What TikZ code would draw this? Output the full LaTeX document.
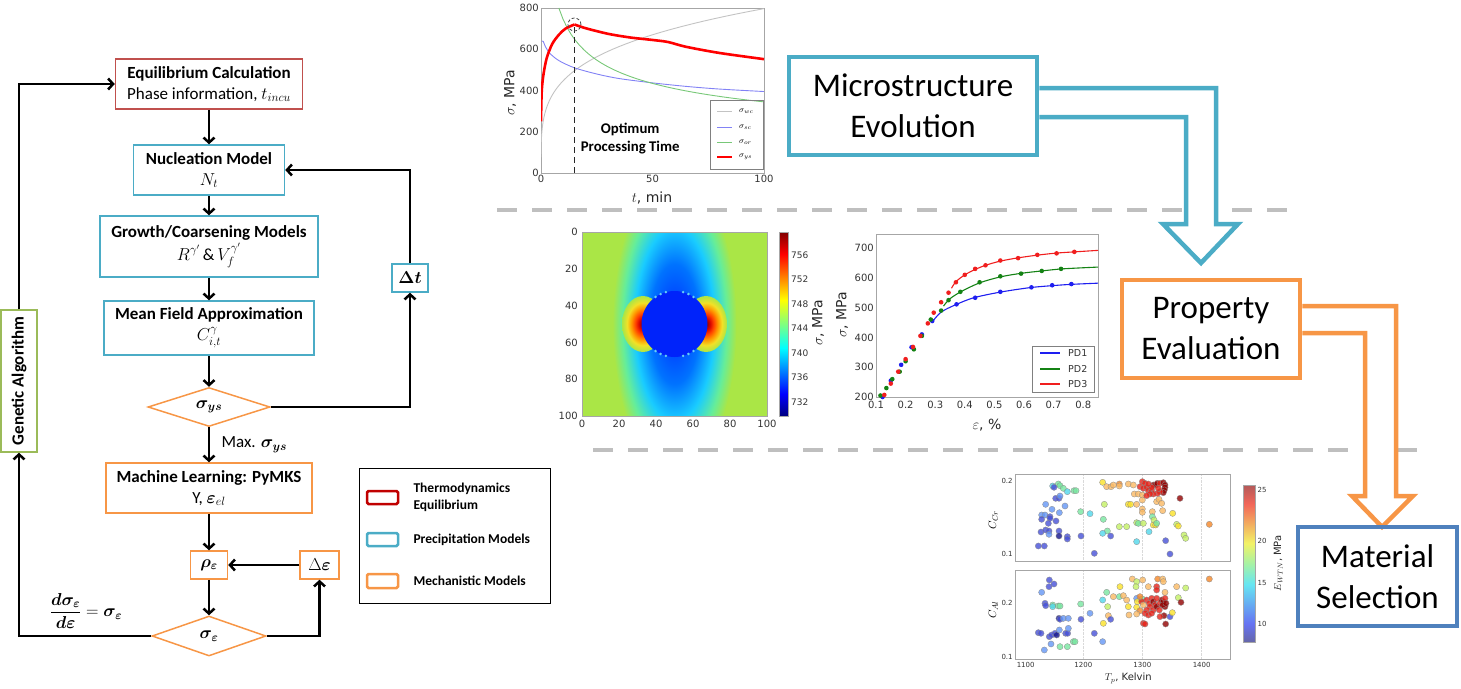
\documentclass[tikz,border=0pt]{standalone}
\usepackage{fontspec}
\setmainfont{Carlito}
\newfontfamily\plotfont{DejaVu Sans}
\usepackage{amsmath,bm}
\usetikzlibrary{arrows.meta,shapes.geometric,positioning,backgrounds}

\definecolor{eqred}{HTML}{C0504D}
\definecolor{eqdark}{HTML}{C00000}
\definecolor{precblue}{HTML}{4BACC6}
\definecolor{mechorange}{HTML}{F79646}
\definecolor{gagreen}{HTML}{9BBB59}
\definecolor{selblue}{HTML}{4F81BD}
\definecolor{dashgray}{HTML}{BFBFBF}
\definecolor{bgjet}{RGB}{170,230,70}
\definecolor{precip}{RGB}{0,35,250}
\definecolor{wcgray}{RGB}{195,195,195}
\definecolor{scblue}{RGB}{130,130,245}
\definecolor{orgreen}{RGB}{120,200,120}
\definecolor{pdblue}{RGB}{30,30,240}
\definecolor{pdgreen}{RGB}{20,130,20}
\definecolor{pdred}{RGB}{240,30,30}
% scatter colours, cool to hot
\definecolor{sa}{RGB}{20,20,140}
\definecolor{sb}{RGB}{70,80,215}
\definecolor{sc}{RGB}{100,150,245}
\definecolor{sd}{RGB}{80,215,235}
\definecolor{se}{RGB}{120,230,160}
\definecolor{sf}{RGB}{195,240,100}
\definecolor{sg}{RGB}{250,225,40}
\definecolor{sh}{RGB}{250,185,100}
\definecolor{si}{RGB}{245,135,40}
\definecolor{sj}{RGB}{230,35,25}
\definecolor{sk}{RGB}{145,0,0}

\newcommand{\fsz}[2]{\fontsize{#1}{#2}\selectfont}

\pgfdeclareverticalshading{jetbar}{100bp}{rgb(0bp)=(0,0,0.5); rgb(25bp)=(0,0,0.5); rgb(31bp)=(0,0,1); rgb(43.5bp)=(0,1,1); rgb(50bp)=(0.5,1,0.5); rgb(56.5bp)=(1,1,0); rgb(69bp)=(1,0,0); rgb(75bp)=(0.5,0,0); rgb(100bp)=(0.5,0,0)}
\pgfdeclareverticalshading{jetsoft}{100bp}{rgb(0bp)=(0.4,0.4,0.65); rgb(25bp)=(0.4,0.4,0.65); rgb(31bp)=(0.4,0.45,0.95); rgb(43.5bp)=(0.4,0.9,0.95); rgb(50bp)=(0.65,0.95,0.65); rgb(56.5bp)=(0.95,0.95,0.4); rgb(69bp)=(0.95,0.4,0.35); rgb(75bp)=(0.7,0.35,0.35); rgb(100bp)=(0.7,0.35,0.35)}
\pgfdeclareradialshading{stressband}{\pgfpoint{0bp}{0bp}}{rgb(0bp)=(0,0.15,1); rgb(10bp)=(0,0.45,1); rgb(16bp)=(0.1,0.8,1); rgb(21bp)=(0.4,0.93,0.6); rgb(25bp)=(0.667,0.902,0.275); rgb(50bp)=(0.667,0.902,0.275)}
\pgfdeclareradialshading{stresslobe}{\pgfpoint{0bp}{0bp}}{rgb(0bp)=(0.5,0,0); rgb(5bp)=(0.85,0.02,0); rgb(9bp)=(1,0.25,0); rgb(14bp)=(1,0.6,0); rgb(19bp)=(0.95,0.88,0.15); rgb(25bp)=(0.667,0.902,0.275); rgb(50bp)=(0.667,0.902,0.275)}

\begin{document}
\begin{tikzpicture}[x=1pt, y=-1pt, >={Straight Barb[length=5pt,width=11pt]},
  box/.style={draw, line width=1.5pt, align=center, inner sep=1pt, font=\fsz{17}{21}},
  eqbox/.style={box, draw=eqred},
  precbox/.style={box, draw=precblue},
  mechbox/.style={box, draw=mechorange},
  decision/.style={diamond, aspect=3, draw=mechorange, line width=1.5pt, inner sep=0pt, font=\fsz{17}{21}},
  flow/.style={->, line width=2.5pt},
  bigbox/.style={draw, line width=4.5pt, align=center, inner sep=0pt, font=\fsz{33}{41}},
  blockarrow/.style={line width=4.5pt, fill=white, line join=miter},
  sepline/.style={dashgray, line width=4.5pt, dash pattern=on 20pt off 15pt},
  frame/.style={draw=black!35, line width=0.8pt},
  tick/.style={font={\plotfont\fsz{10}{12}}, text=black!80, inner sep=2pt},
  smalltick/.style={font={\plotfont\fsz{7}{8}}, text=black!80, inner sep=1.5pt},
  axlabel/.style={font={\plotfont\fsz{14}{16}}, text=black!85},
  dot/.style={draw=black!45, line width=0.3pt, fill opacity=0.8},
  swatch/.style={line width=2.5pt, rounded corners=1.5pt}]
\useasboundingbox (0,0) rectangle (1461,688);

% flow chart
\node[eqbox, minimum width=187pt, minimum height=50pt] (eq) at (209,84) {\textbf{Equilibrium Calculation}\\Phase information, $t_{incu}$};
\node[precbox, minimum width=151pt, minimum height=50pt] (nuc) at (209,170) {\textbf{Nucleation Model}\\$N_t$};
\node[precbox, minimum width=218pt, minimum height=61pt] (grow) at (209,246.5) {\textbf{Growth/Coarsening Models}\\[2pt]$R^{\gamma'}$\,\&\,$V_f^{\gamma'}$};
\node[precbox, minimum width=210pt, minimum height=54pt] (mean) at (209,328) {\textbf{Mean Field Approximation}\\$C_{i,t}^{\gamma}$};
\node[precbox, minimum width=36pt, minimum height=28pt] (dt) at (410,278) {$\bm{\Delta t}$};
\node[decision, minimum width=122pt, minimum height=39pt] (sys) at (209,407) {$\bm{\sigma_{ys}}$};
\node[mechbox, minimum width=206pt, minimum height=50pt] (ml) at (209,488) {\textbf{Machine Learning: PyMKS}\\Y, $\bm{\varepsilon}_{el}$};
\node[mechbox, minimum width=37pt, minimum height=28pt] (rho) at (209,565) {$\bm{\rho_\varepsilon}$};
\node[mechbox, minimum width=39pt, minimum height=28pt] (de) at (319.5,565) {$\Delta\bm{\varepsilon}$};
\node[decision, minimum width=114pt, minimum height=40pt] (se) at (209,636) {$\bm{\sigma_\varepsilon}$};
\node[box, draw=gagreen, rotate=90, minimum width=142pt, minimum height=36pt] (ga) at (19,381) {\textbf{Genetic Algorithm}};
\node[font=\fsz{17}{21}] (ratelab) at (86,611) {$\displaystyle\frac{\bm{d\sigma_\varepsilon}}{\bm{d\varepsilon}}=\bm{\sigma_\varepsilon}$};

\draw[flow] (eq) -- (nuc);
\draw[flow] (nuc) -- (grow);
\draw[flow] (grow) -- (mean);
\draw[flow] (mean) -- (sys);
\draw[flow] (sys.east) -| (dt);
\draw[flow] (dt) |- (nuc);
\draw[flow] (sys) -- node[right=8pt, font=\fsz{17}{21}] (maxlab) {Max. $\bm{\sigma_{ys}}$} (ml);
\draw[flow] (ml) -- (rho);
\draw[flow] (de) -- (rho);
\draw[flow] (rho) -- (se);
\draw[flow] (se.east) -| (de);
\draw[flow] (se.west) -| (ga);
\draw[flow] (ga) |- (eq);

% legend
\node[draw, line width=0.8pt, minimum width=191pt, minimum height=135pt] (legend) at (454.5,535.5) {};
\draw[swatch, eqdark] (367,491) rectangle (398,504);
\draw[swatch, precblue] (367,533) rectangle (398,546);
\draw[swatch, mechorange] (367,574) rectangle (398,588);
\node[anchor=west, align=left, font=\bfseries\fsz{13.5}{17}] (leq) at (410,497.5) {Thermodynamics\\Equilibrium};
\node[anchor=west, font=\bfseries\fsz{13.5}{16}] (lprec) at (410,539.5) {Precipitation Models};
\node[anchor=west, font=\bfseries\fsz{13.5}{16}] (lmech) at (410,580.5) {Mechanistic Models};

% stages
\node[bigbox, draw=precblue, minimum width=248pt, minimum height=98pt] (micro) at (913,106) {Microstructure\\Evolution};
\node[bigbox, draw=mechorange, minimum width=178pt, minimum height=98pt] (prop) at (1211,329) {Property\\Evaluation};
\node[bigbox, draw=selblue, minimum width=159pt, minimum height=99pt] (mat) at (1377.5,576.5) {Material\\Selection};
\coordinate (mo1) at (1216,88);
\coordinate (mi1) at (1186,117);
\coordinate (mo2) at (1396,306);
\coordinate (mi2) at (1365,333);
\begin{scope}[on background layer]
  \draw[sepline] (497,210) -- (1287,210);
  \draw[sepline] (593,450) -- (1417,450);
  \draw[blockarrow, draw=precblue] (micro.east |- mo1) -- (mo1) -- (1216,224) -- (1238,224) -- (1201,263) -- (1163,224) -- (1186,224) -- (mi1) -- (micro.east |- mi1);
  \draw[blockarrow, draw=mechorange] (prop.east |- mo2) -- (mo2) -- (1396,496) -- (1413,496) -- (1382,527) -- (1352,496) -- (1365,496) -- (mi2) -- (prop.east |- mi2);
\end{scope}

% strength vs ageing time
\begin{scope}[shift={(541pt,-173pt)}, x=2.23pt, y=0.20625pt]
  \draw[frame] (0,0) rectangle (100,800);
  \foreach \s [count=\i] in {0,200,400,600,800} \node[tick, anchor=east] (ay\i) at (0,\s) {\s};
  \foreach \t [count=\i] in {0,50,100} \node[tick, anchor=north] (ax\i) at (\t,0) {\t};
  \begin{scope}
    \clip (0,0) rectangle (100,800);
    \draw[wcgray, line width=0.9pt] plot[domain=0.3:3.1623, samples=60] ({\x^4}, {252*\x});
    \draw[scblue, line width=0.9pt] plot[smooth] coordinates {(0.3,640) (1,638) (2,612) (4,580) (8,545) (15,510) (25,480) (35,458) (50,437) (65,420) (80,407) (100,395)};
    \draw[orgreen, line width=0.9pt] plot[domain=8:100, samples=50] (\x, {800*(\x/8)^(-0.3333)});
    \draw[red, line width=2.6pt] plot[smooth] coordinates {(0,250) (0.3,390) (1,470) (2.5,555) (5,625) (8,670) (11,700) (15,720)};
    \draw[red, line width=2.6pt] plot[smooth] coordinates {(15,720) (20,702) (30,675) (40,657) (50,645) (57,635) (65,612) (80,582) (100,552)};
  \end{scope}
  \draw[black!85, line width=1.4pt, dash pattern=on 6pt off 4pt] (15,0) -- (15,720);
  \draw[black!70, line width=0.8pt, dash pattern=on 3pt off 2pt] (15,720) circle[radius=6.5pt];
  \node[font=\bfseries\fsz{14.8}{18}, align=center] (opt) at (40,165) {Optimum\\Processing Time};
\end{scope}
\node[axlabel, rotate=90] (sylab) at (510,93) {$\sigma$, MPa};
\node[axlabel] (tlab) at (652,198) {$t$, min};
\node[draw=black!50, line width=0.6pt, minimum width=53pt, minimum height=69pt] (tleg) at (736.5,134.5) {};
\foreach \c/\w/\y/\l in {wcgray/0.9pt/111/wc, scblue/0.9pt/127/sc, orgreen/0.9pt/142/or, red/2.2pt/157/ys} {
  \draw[\c, line width=\w] (717,\y) -- (732,\y);
  \node[anchor=west, font=\fsz{8}{9}, inner sep=1pt] (tl\l) at (738,\y) {$\sigma_{\l}$};
}

% stress field around a precipitate
\begin{scope}
  \clip (582,232) rectangle (767,416);
  \fill[bgjet] (582,232) rectangle (767,416);
  \shade[shading=stressband] (674.5,324) ellipse[x radius=62, y radius=150];
  \shade[shading=stresslobe] (643,324) ellipse[x radius=21, y radius=28];
  \shade[shading=stresslobe] (706,324) ellipse[x radius=21, y radius=28];
  \fill[precip] (674.5,324) circle[radius=33];
  \foreach \a in {55,65,75,105,115,125,235,245,255,285,295,305}
    \fill[cyan!60!white] (674.5,324) ++(\a:33) circle[radius=1.4];
\end{scope}
\draw[frame] (582,232) rectangle (767,416);
\foreach \v [count=\i from 0] in {0,20,40,60,80,100} {
  \node[tick, anchor=east] (hy\i) at (580,232+36.8*\i) {\v};
  \node[tick, anchor=north] (hx\i) at (582+37*\i,418) {\v};
}
\shade[shading=jetbar] (779,232) rectangle (788,416);
\draw[frame] (779,232) rectangle (788,416);
\foreach \v [count=\i from 0] in {756,752,748,744,740,736,732}
  \node[tick, anchor=west, font={\plotfont\fsz{9}{10}}] (cb\i) at (789,255+24.5*\i) {\v};
\node[axlabel, rotate=90] (cblab) at (818,323) {$\sigma$, MPa};

% stress-strain curves
\begin{scope}[shift={(846.4pt,-456.6pt)}, x=296pt, y=0.298pt]
  \draw[frame] (0.1,200) rectangle (0.85,747);
  \foreach \s [count=\i] in {200,300,400,500,600,700} \node[tick, anchor=east] (sy\i) at (0.1,\s) {\s};
  \foreach \e [count=\i] in {0.1,0.2,0.3,0.4,0.5,0.6,0.7,0.8} \node[tick, anchor=north, yshift=-2pt] (sx\i) at (\e,200) {\e};
  \draw[pdblue, line width=1.1pt] plot[smooth] coordinates {(0.29,452) (0.32,485) (0.37,510) (0.43,533) (0.52,552) (0.62,567) (0.70,574) (0.76,578) (0.85,582)};
  \draw[pdgreen, line width=1.1pt] plot[smooth] coordinates {(0.328,505) (0.35,530) (0.39,555) (0.45,583) (0.52,603) (0.59,615) (0.66,623) (0.73,630) (0.85,636)};
  \draw[pdred, line width=1.1pt] plot[smooth] coordinates {(0.355,565) (0.37,587) (0.40,610) (0.435,628) (0.47,642) (0.52,656) (0.58,667) (0.645,676) (0.71,683) (0.77,687) (0.85,692)};
  \foreach \e/\s in {0.122/200,0.15/255,0.185/308,0.22/367,0.255/410,0.29/455,0.372/511,0.435/533,0.52/553,0.625/568,0.695/575,0.76/579}
    \fill[pdblue] (\e,\s) circle[radius=2.3pt];
  \foreach \e/\s in {0.115/205,0.135/230,0.155/260,0.18/285,0.2/320,0.228/360,0.255/405,0.285/460,0.32/490,0.345/525,0.385/553,0.45/585,0.52/605,0.59/614,0.66/623,0.725/630}
    \fill[pdgreen] (\e,\s) circle[radius=2.3pt];
  \foreach \e/\s in {0.128/207,0.15/245,0.175/285,0.2/327,0.225/368,0.25/405,0.275/447,0.295/483,0.32/518,0.345/550,0.37/585,0.40/610,0.435/630,0.47/642,0.52/658,0.58/666,0.645/677,0.71/682,0.77/687}
    \fill[pdred] (\e,\s) circle[radius=2.3pt];
\end{scope}
\node[axlabel, rotate=90] (sslab) at (842,315) {$\sigma$, MPa};
\node[axlabel] (eplab) at (987,425) {$\varepsilon$, \%};
\node[draw=black!50, line width=0.6pt, minimum width=62pt, minimum height=46pt] (pleg) at (1063,369) {};
\foreach \c/\y/\l in {pdblue/353/PD1, pdgreen/369/PD2, pdred/384/PD3} {
  \draw[\c, line width=1.1pt] (1040,\y) -- (1060,\y);
  \node[anchor=west, font={\plotfont\fsz{9.5}{11}}, text=black!80, inner sep=1pt] (l\l) at (1067,\y) {\l};
}

% design space
\begin{scope}[shift={(980pt,-470pt)}, x=0.3333pt, y=-0.3333pt]
  \foreach \X in {310,487,665} {
    \draw[black!15, densely dotted] (\X,12) -- (\X,275);
    \draw[black!15, densely dotted] (\X,300) -- (\X,568);
  }
  \foreach \X/\Y/\c in {175/228/sb, 193/228/sb, 183/186/sb, 197/180/sb, 207/183/sb, 207/193/sc, 218/48/sd, 235/42/se, 240/47/se, 222/52/sb, 250/55/se, 262/65/sd, 282/62/se, 288/62/se, 227/85/sb, 237/85/sb, 240/78/sc, 197/103/sc, 216/118/sc, 255/108/sc, 238/128/sc, 185/135/sc, 195/135/sc, 210/140/sb, 210/145/sb, 185/148/sb, 205/160/sb, 228/153/sb, 237/183/sb, 237/198/sa, 262/200/sb, 262/207/sb, 302/125/se, 303/198/sb, 330/131/sd, 343/250/sb, 368/37/sg, 380/50/sh, 393/50/sh, 400/45/sh, 418/42/si, 418/48/sh, 445/42/sh, 460/45/sh, 373/103/sf, 370/148/se, 382/183/se, 368/190/sd, 392/198/sb, 418/170/sf, 440/170/sf, 445/103/sg, 452/103/sg, 470/103/sh, 463/72/sh, 475/72/sh, 487/75/sh, 487/90/sh, 487/117/sh, 487/127/sh, 470/158/sf, 475/160/se, 490/160/sf, 470/215/sd, 517/125/sh, 517/140/se, 522/150/sf, 507/185/sd, 520/165/sg, 527/165/sg, 530/160/se, 548/122/sh, 578/130/sg, 557/212/sb, 570/252/sb, 530/95/sh, 537/88/sh, 545/100/sh, 487/35/sj, 495/40/sj, 480/50/sj, 490/55/sj, 500/52/sj, 505/62/sj, 515/60/sj, 520/45/sk, 527/45/sk, 532/40/sk, 540/40/sj, 550/38/sk, 555/45/sk, 555/52/sk, 553/60/sk, 550/68/sk, 540/65/sj, 532/70/sj, 520/72/sj, 510/72/sj, 500/77/sj, 515/52/sj, 535/55/sj, 505/42/sj, 600/85/sk, 590/163/sf, 595/168/sg, 612/195/sf, 617/205/sf, 688/163/si}
    \filldraw[dot, fill=\c] (\X,\Y) circle[radius=3.1pt];
  \foreach \X/\Y/\c in {175/488/sb, 183/490/sb, 193/540/sc, 185/367/sc, 208/330/sb, 207/350/sb, 222/342/sb, 195/400/sb, 197/407/sb, 218/405/se, 218/410/sd, 235/408/se, 240/408/se, 237/445/sa, 240/448/sb, 250/445/sc, 265/445/sc, 208/500/sb, 215/495/sb, 213/522/sc, 225/490/sb, 230/495/sa, 238/480/sc, 257/490/sb, 263/490/sb, 265/475/sc, 240/530/se, 262/530/se, 280/515/se, 285/515/se, 302/402/se, 303/448/sb, 343/490/sb, 330/430/sc, 368/390/sd, 370/460/sg, 368/515/sc, 380/367/se, 383/410/sf, 385/437/sh, 392/448/sb, 400/380/sh, 420/350/sg, 418/380/se, 430/377/sh, 440/390/sh, 445/410/sg, 447/435/sh, 457/327/sh, 470/335/sf, 468/350/sf, 470/385/sc, 472/395/sg, 470/412/sg, 480/422/si, 470/432/sh, 488/330/sh, 487/387/se, 490/460/sj, 495/462/sj, 505/350/sh, 533/327/si, 548/327/sh, 550/335/sh, 530/350/sj, 530/360/sj, 555/367/sh, 555/410/sk, 552/437/sk, 557/462/sk, 570/440/sb, 577/428/sg, 590/350/sh, 595/383/sf, 603/397/sk, 617/354/sf, 688/327/si, 500/390/sj, 508/400/sj, 515/385/sj, 520/395/sk, 525/405/sj, 510/410/sj, 500/420/sj, 495/430/sj, 505/435/sj, 520/420/sj, 530/410/sk, 540/400/sj, 545/390/sk, 550/395/sk, 555/385/sj, 538/420/sj, 515/430/sj, 485/395/sj, 490/405/sh, 480/380/si, 530/385/sj, 548/405/sk, 558/400/sk, 540/440/sj}
    \filldraw[dot, fill=\c] (\X,\Y) circle[radius=3.1pt];
  \draw[frame] (105,12) rectangle (752,275);
  \draw[frame] (105,300) rectangle (752,568);
  \node[smalltick, anchor=east] (cr2) at (103,32) {0.2};
  \node[smalltick, anchor=east] (cr1) at (103,252) {0.1};
  \node[smalltick, anchor=east] (al2) at (103,398) {0.2};
  \node[smalltick, anchor=east] (al1) at (103,562) {0.1};
  \foreach \X/\T in {137/1100,310/1200,487/1300,665/1400}
    \node[smalltick, anchor=north] (tp\T) at (\X,572) {\T};
  \node[rotate=90, font=\fsz{11}{12}] (crlab) at (40,150) {$C_{Cr}$};
  \node[rotate=90, font=\fsz{11}{12}] (allab) at (40,420) {$C_{Al}$};
  \node[font={\plotfont\fsz{10}{12}}, text=black!85] (tplab) at (445,625) {$T_p$, Kelvin};
  \shade[shading=jetsoft] (790,45) rectangle (825,518);
  \draw[frame] (790,45) rectangle (825,518);
  \foreach \Y/\v in {60/25,212/20,338/15,463/10}
    \node[smalltick, anchor=west] (ew\v) at (828,\Y) {\v};
  \node[rotate=90, font={\plotfont\fsz{10}{12}}, text=black!85] (ewlab) at (895,280) {$E_{WTN}$, MPa};
\end{scope}
\end{tikzpicture}
\end{document}
